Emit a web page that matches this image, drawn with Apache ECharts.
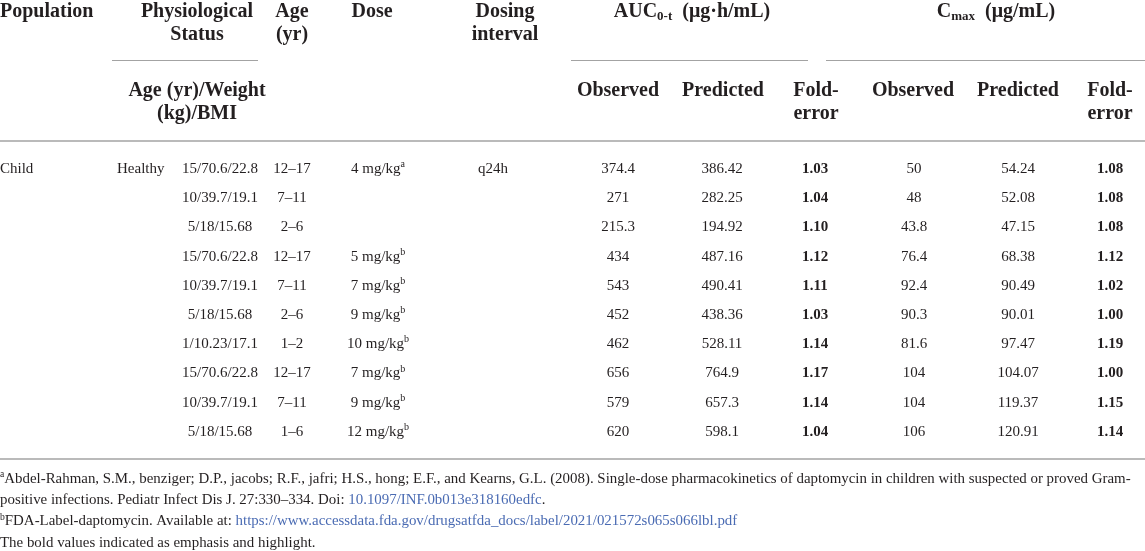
<!DOCTYPE html>
<html>
<head>
<meta charset="utf-8">
<script src="https://cdn.jsdelivr.net/npm/echarts@6/dist/echarts.min.js"></script>
<style>
  html, body { margin: 0; padding: 0; background: #fff; }
  #main { width: 1145px; height: 551px; }
</style>
</head>
<body>
<div id="main"></div>
<script>
/* table data */
var population = ['Child', '', '', '', '', '', '', '', '', ''];
var physStatus = ['Healthy', '', '', '', '', '', '', '', '', ''];
var ageWeightBmi = ['15/70.6/22.8', '10/39.7/19.1', '5/18/15.68', '15/70.6/22.8', '10/39.7/19.1',
  '5/18/15.68', '1/10.23/17.1', '15/70.6/22.8', '10/39.7/19.1', '5/18/15.68'];
var ageRange = ['12–17', '7–11', '2–6', '12–17', '7–11', '2–6', '1–2', '12–17', '7–11', '1–6'];
var dose = ['4 mg/kg', '', '', '5 mg/kg', '7 mg/kg', '9 mg/kg', '10 mg/kg', '7 mg/kg', '9 mg/kg', '12 mg/kg'];
var doseNote = ['a', '', '', 'b', 'b', 'b', 'b', 'b', 'b', 'b'];
var dosingInterval = ['q24h', '', '', '', '', '', '', '', '', ''];
var aucObserved = [374.4, 271, 215.3, 434, 543, 452, 462, 656, 579, 620];
var aucPredicted = [386.42, 282.25, 194.92, 487.16, 490.41, 438.36, 528.11, 764.9, 657.3, 598.1];
var aucFold = [1.03, 1.04, 1.10, 1.12, 1.11, 1.03, 1.14, 1.17, 1.14, 1.04];
var cmaxObserved = [50, 48, 43.8, 76.4, 92.4, 90.3, 81.6, 104, 104, 106];
var cmaxPredicted = [54.24, 52.08, 47.15, 68.38, 90.49, 90.01, 97.47, 104.07, 119.37, 120.91];
var cmaxFold = [1.08, 1.08, 1.08, 1.12, 1.02, 1.00, 1.19, 1.00, 1.15, 1.14];
var rowIds = ['r1', 'r2', 'r3', 'r4', 'r5', 'r6', 'r7', 'r8', 'r9', 'r10'];

var footnotes = [
  '{sup|a}Abdel-Rahman, S.M., benziger; D.P., jacobs; R.F., jafri; H.S., hong; E.F., and Kearns, G.L. (2008). Single-dose pharmacokinetics of daptomycin in children with suspected or proved Gram-',
  'positive infections. Pediatr Infect Dis J. 27:330–334. Doi: {link|10.1097/INF.0b013e318160edfc}.',
  '{sup|b}FDA-Label-daptomycin. Available at: {link|https://www.accessdata.fda.gov/drugsatfda_docs/label/2021/021572s065s066lbl.pdf}',
  'The bold values indicated as emphasis and highlight.'
];

var INK = '#231f20';
var RULE = '#a3a3a3';
var SERIF = '"Liberation Serif", "DejaVu Serif", serif';
var HEAD_FONT = 'bold 20px ' + SERIF;
var BODY_FONT = '15px ' + SERIF;
// superscript: bottom padding lifts the glyph above the baseline
var SUP = { font: '10px ' + SERIF, fill: INK, lineHeight: 10, padding: [0, 0, 9, 0] };

/* column layout (x in px) */
var columns = [
  { values: population, x: 0, align: 'left' },
  { values: physStatus, x: 117, align: 'left' },
  { values: ageWeightBmi, x: 220, align: 'center' },
  { values: ageRange, x: 292, align: 'center' },
  { values: dose, note: doseNote, x: 378, align: 'center' },
  { values: dosingInterval, x: 493, align: 'center' },
  { values: aucObserved, x: 618, align: 'center' },
  { values: aucPredicted, x: 722, align: 'center' },
  { values: aucFold, x: 815, align: 'center', bold: true, fixed: 2 },
  { values: cmaxObserved, x: 914, align: 'center' },
  { values: cmaxPredicted, x: 1018, align: 'center' },
  { values: cmaxFold, x: 1110, align: 'center', bold: true, fixed: 2 }
];

var cells = [];
columns.forEach(function (col) {
  col.values.forEach(function (v, i) {
    if (v === '') return;
    var txt = col.fixed ? v.toFixed(col.fixed) : String(v);
    if (col.note && col.note[i]) txt = '{n|' + txt + '}{sup|' + col.note[i] + '}';
    cells.push({ value: [col.x, i], text: txt, align: col.align, bold: !!col.bold });
  });
});

function headText(x, y, text, align) {
  return {
    type: 'text', x: x, y: y, silent: true,
    style: {
      text: text, font: HEAD_FONT, fill: INK, lineHeight: 23,
      align: align || 'center', verticalAlign: 'top',
      rich: {
        b: { font: HEAD_FONT, fill: INK, lineHeight: 23 },
        sub: { font: 'bold 13px ' + SERIF, fill: INK, lineHeight: 13, verticalAlign: 'bottom' }
      }
    }
  };
}

function rule(x1, x2, y, w) {
  return {
    type: 'line', silent: true,
    shape: { x1: x1, y1: y, x2: x2, y2: y },
    style: { stroke: RULE, lineWidth: w || 1 }
  };
}

/* squeeze footnotes like the condensed face in the source */
var FOOT_FONT = '15.5px ' + SERIF;
var measure = document.createElement('canvas').getContext('2d');
measure.font = FOOT_FONT;
var plain0 = footnotes[0].replace(/\{\w+\|([^}]*)\}/g, '$1');
var footScale = 1133 / measure.measureText(plain0).width;

var graphics = [
  headText(0, 0, 'Population', 'left'),
  headText(197, 0, 'Physiological\nStatus'),
  headText(292, 0, 'Age\n(yr)'),
  headText(372, 0, 'Dose'),
  headText(505, 0, 'Dosing\ninterval'),
  headText(692, 0, '{b|AUC}{sub|0-t}{b|  (μg·h/mL)}'),
  headText(996, 0, '{b|C}{sub|max}{b|  (μg/mL)}'),
  rule(112, 258, 60.5),
  rule(571, 808, 60.5),
  rule(826, 1145, 60.5),
  headText(197, 79, 'Age (yr)/Weight\n(kg)/BMI'),
  headText(618, 79, 'Observed'),
  headText(723, 79, 'Predicted'),
  headText(816, 79, 'Fold-\nerror'),
  headText(913, 79, 'Observed'),
  headText(1018, 79, 'Predicted'),
  headText(1110, 79, 'Fold-\nerror'),
  rule(0, 1145, 141, 1.5),
  rule(0, 1145, 459, 1.5)
];

footnotes.forEach(function (line, i) {
  graphics.push({
    type: 'text', x: 0, y: 479 + i * 21.2, scaleX: footScale, silent: true,
    style: {
      text: line, font: FOOT_FONT, fill: INK, align: 'left', verticalAlign: 'middle',
      rich: {
        n: { font: FOOT_FONT, fill: INK },
        sup: SUP,
        link: { font: FOOT_FONT, fill: '#4a6bb3' }
      }
    }
  });
});

var chart = echarts.init(document.getElementById('main'));
chart.setOption({
  animation: false,
  grid: { left: 0, right: 0, top: 154.4, bottom: 104.4 },
  xAxis: { type: 'value', min: 0, max: 1145, show: false },
  yAxis: { type: 'category', data: rowIds, inverse: true, show: false },
  graphic: graphics,
  series: [{
    type: 'custom',
    silent: true,
    data: cells,
    renderItem: function (params, api) {
      var c = cells[params.dataIndex];
      var p = api.coord([api.value(0), api.value(1)]);
      var f = (c.bold ? 'bold ' : '') + BODY_FONT;
      return {
        type: 'text', x: p[0], y: p[1],
        style: {
          text: c.text, font: f, fill: INK, align: c.align, verticalAlign: 'middle',
          rich: {
            n: { font: f, fill: INK },
            sup: SUP
          }
        }
      };
    }
  }]
});
</script>
</body>
</html>
